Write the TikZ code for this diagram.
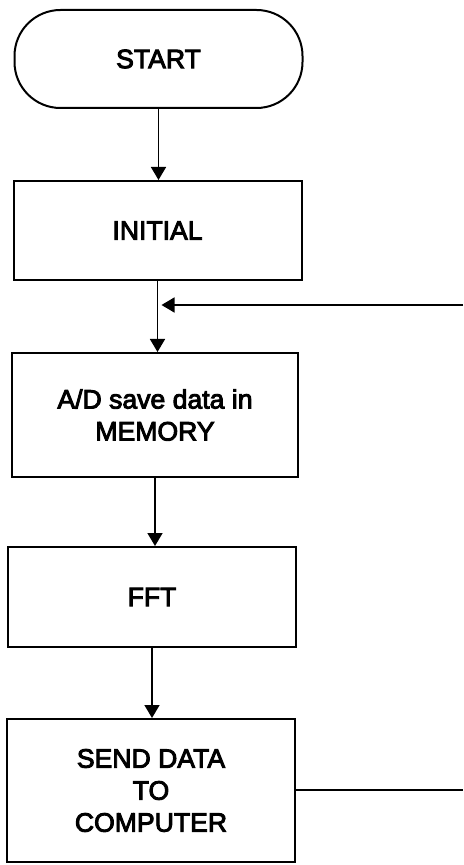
\documentclass[tikz,border=0pt]{standalone}
\usepackage{fontspec}
\setmainfont{Liberation Sans}
\newfontfamily\boxfont[FakeBold=3.5]{Liberation Sans}
\usepackage{tikz}
\usetikzlibrary{arrows.meta}

\tikzset{
  block/.style={draw, line width=1pt, minimum width=144pt, align=center,
    font=\boxfont\fontsize{13.3}{16}\selectfont, inner sep=0pt},
  term/.style={block, rounded corners=23pt, minimum height=49pt},
  flow/.style={line width=0.8pt, -{Triangle[length=6.5pt,width=7.5pt]}},
  wire/.style={line width=0.8pt}
}

\begin{document}
\begin{tikzpicture}[x=0.5pt,y=-0.5pt]
\useasboundingbox (0,0) rectangle (463,865);
% steps of the loop, top to bottom
\node[term] (start) at (158.5,59) {START};
\node[block, minimum height=49.5pt] (init) at (157.5,230.5) {INITIAL};
\node[block, minimum height=62pt, minimum width=143pt] (adc) at (155,415) {A/D save data in\\MEMORY};
\node[block, minimum height=50pt] (fft) at (152,597) {FFT};
\node[block, minimum height=71.5pt] (send) at (151,790.5) {SEND DATA\\TO\\COMPUTER};
% return path comes in from the right
\coordinate (back) at (463,305);
\coordinate (join) at (init.south |- back);
\coordinate (out) at (463,790);
\draw[flow] (start.south) -- (start.south |- init.north);
\draw[flow] (init.south) -- (init.south |- adc.north);
\draw[flow] (adc.south) -- (adc.south |- fft.north);
\draw[flow] (fft.south) -- (fft.south |- send.north);
\draw[flow] (back) -- ([xshift=2pt]join);
\draw[wire] (send.east |- out) -- (out);
\end{tikzpicture}
\end{document}
